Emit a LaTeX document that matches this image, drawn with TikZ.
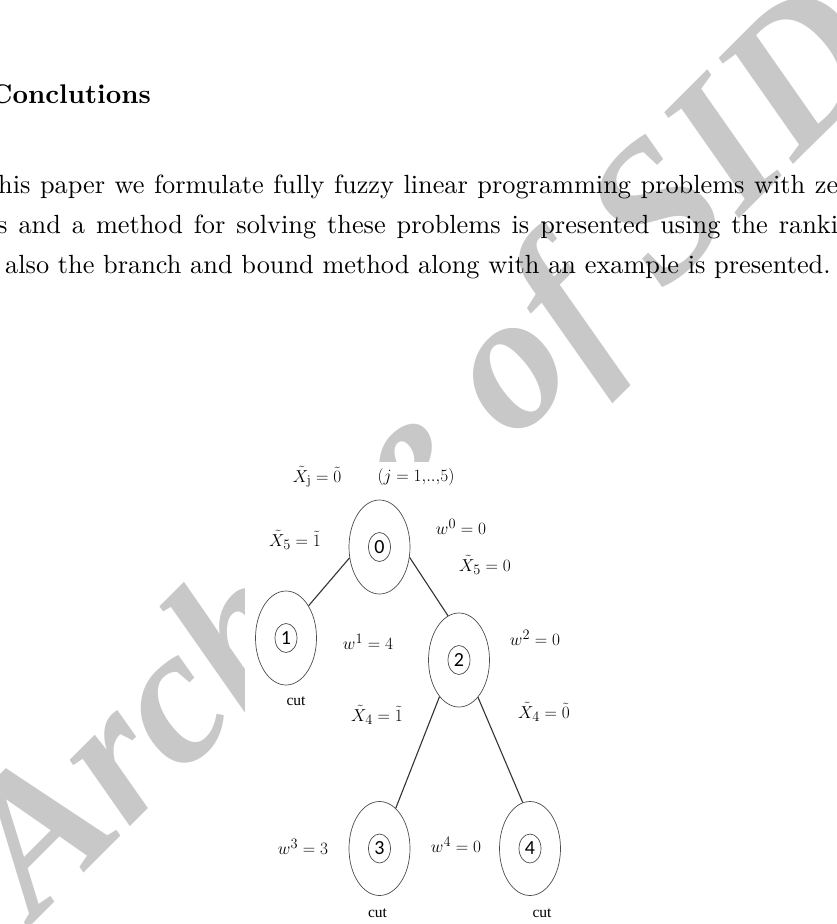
\documentclass[tikz,border=0pt]{standalone}
\usepackage{fontspec}
\newfontfamily\paperfont{lmroman10-regular.otf}[BoldFont=lmroman10-bold.otf]
\newfontfamily\numfont{Carlito}
\newfontfamily\cutfont{Liberation Serif}
\usepackage{tikz}
\usetikzlibrary{positioning, shapes.geometric}
\definecolor{wmgray}{RGB}{200,200,200}

\begin{document}
\begin{tikzpicture}[x=1pt,y=-1pt,
  outer/.style={draw=black!70,line width=0.7pt,ellipse,minimum width=61pt,minimum height=94pt,inner sep=0pt},
  inner/.style={draw=black!70,line width=0.7pt,ellipse,minimum width=22pt,minimum height=29pt,inner sep=0pt,font=\numfont\fontsize{20}{20}\selectfont},
  lbl/.style={font=\fontsize{19}{22}\selectfont,inner sep=0pt},
  cutlbl/.style={font=\cutfont\fontsize{15.5}{18}\selectfont,inner sep=0pt},
  branch/.style={draw=black!80,line width=1.1pt},
  txtline/.style={font=\paperfont\fontsize{26.3}{30}\selectfont,inner sep=0pt,anchor=base west}]
  \useasboundingbox (0,0) rectangle (836,924);
  \clip (0,0) rectangle (836,924);

  % watermark behind everything, hidden by the white figure area
  \node[rotate=45,text=wmgray,inner sep=0pt,font=\cutfont\bfseries\itshape\fontsize{195}{195}\selectfont] (wm) at (431,459) {Archive of SID};
  \fill[white] (245,462) rectangle (640,924);

  % page text
  \node[txtline,font=\paperfont\bfseries\fontsize{27}{30}\selectfont] (head) at (-10,103) {Conclutions};
  \node[txtline] (l1) at (-2,193) {\makebox[840pt][s]{his paper we formulate fully fuzzy linear programming problems with ze}};
  \node[txtline] (l2) at (-3,233) {\makebox[841pt][s]{s and a method for solving these problems is presented using the ranki}};
  \node[txtline] (l3) at (5,273) {also the branch and bound method along with an example is presented.};

  % tree nodes
  \node[outer] (n0) at (379.5,547) {};
  \node[inner] (c0) at (n0) {0};
  \node[outer] (n1) at (286,638) {};
  \node[inner] (c1) at (n1) {1};
  \node[outer] (n2) at (459,660) {};
  \node[inner] (c2) at (n2) {2};
  \node[outer] (n3) at (379.5,848.5) {};
  \node[inner] (c3) at (n3) {3};
  \node[outer] (n4) at (530,848.5) {};
  \node[inner] (c4) at (n4) {4};

  \draw[branch] (n0.200) -- (n1.55);
  \draw[branch] (n0.341) -- (n2.104);
  \draw[branch] (n2.242) -- (n3.68);
  \draw[branch] (n2.297) -- (n4.99);

  % labels
  \node[lbl] (xj) at (317,477) {$\tilde{X}_{\mathrm{j}}=\tilde{0}$};
  \node[lbl] (jr) at (416,477) {$(j=1{,}..{,}5)$};
  \node[lbl] (x5a) at (295,540) {$\tilde{X}_5=\tilde{1}$};
  \node[lbl] (w0) at (461,527) {$w^0=0$};
  \node[lbl] (x5b) at (485,565) {$\tilde{X}_5=0$};
  \node[lbl] (w1) at (368,642) {$w^1=4$};
  \node[lbl] (w2) at (535,638) {$w^2=0$};
  \node[lbl] (x4a) at (377,715) {$\tilde{X}_4=\tilde{1}$};
  \node[lbl] (x4b) at (544,712) {$\tilde{X}_4=\tilde{0}$};
  \node[lbl] (w3) at (303,847) {$w^3=3$};
  \node[lbl] (w4) at (456,845) {$w^4=0$};
  \node[cutlbl,below=11pt of n1,xshift=10pt] (cut1) {cut};
  \node[cutlbl,below=13pt of n3,xshift=-2pt] (cut3) {cut};
  \node[cutlbl,below=13pt of n4,xshift=12pt] (cut4) {cut};
\end{tikzpicture}
\end{document}
